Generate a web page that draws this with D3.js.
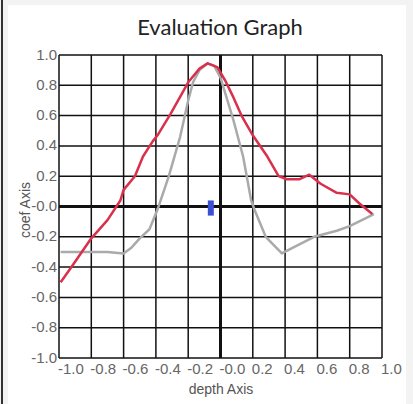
<!DOCTYPE html>
<html>
<head>
<meta charset="utf-8">
<script src="https://cdn.jsdelivr.net/npm/d3@7"></script>
<style>
  body { margin: 0; background: #f3f3f3; }
  svg { display: block; }
</style>
</head>
<body>
<svg id="chart" width="413" height="404"></svg>
<script>
// data
const ticks = [-1.0, -0.8, -0.6, -0.4, -0.2, 0.0, 0.2, 0.4, 0.6, 0.8, 1.0];
const tickLabels = ['-1.0', '-0.8', '-0.6', '-0.4', '-0.2', '-0.0', '0.2', '0.4', '0.6', '0.8', '1.0'];
const yTickLabels = ['-1.0', '-0.8', '-0.6', '-0.4', '-0.2', '-0.0', '0.2', '0.4', '0.6', '0.8', '1.0'];

const redX = [-0.99, -0.96, -0.91, -0.80, -0.70, -0.62, -0.60, -0.53, -0.48, -0.42, -0.39, -0.31, -0.20, -0.13, -0.08,
              -0.02, 0.03, 0.08, 0.13, 0.20, 0.29, 0.36, 0.41, 0.49, 0.55, 0.62, 0.72, 0.80, 0.86, 0.94];
const redY = [-0.50, -0.455, -0.38, -0.21, -0.09, 0.04, 0.11, 0.20, 0.33, 0.43, 0.47, 0.61, 0.82, 0.91, 0.945,
              0.92, 0.83, 0.72, 0.60, 0.47, 0.33, 0.20, 0.18, 0.18, 0.21, 0.15, 0.09, 0.08, 0.02, -0.05];

const greyX = [-0.99, -0.93, -0.80, -0.70, -0.60, -0.55, -0.50, -0.44, -0.39, -0.32, -0.25, -0.20, -0.17, -0.13, -0.08,
               -0.04, 0.0, 0.08, 0.14, 0.19, 0.21, 0.28, 0.38, 0.47, 0.58, 0.72, 0.80, 0.95];
const greyY = [-0.30, -0.30, -0.30, -0.30, -0.31, -0.27, -0.21, -0.15, -0.02, 0.20, 0.46, 0.70, 0.82, 0.90, 0.945,
               0.93, 0.85, 0.57, 0.33, 0.04, -0.02, -0.20, -0.31, -0.26, -0.20, -0.16, -0.13, -0.05];

const markerX = -0.06;
const markerY = [0.04, -0.06];

const svg = d3.select('#chart');

// white card + left frame line
svg.append('rect').attr('x', 8).attr('y', 5).attr('width', 398).attr('height', 399).attr('fill', '#fff');
svg.append('rect').attr('x', 1).attr('y', 0).attr('width', 2).attr('height', 404).attr('fill', '#333');

const xScale = d3.scaleLinear().domain([-1, 1]).range([59, 382]);
const yScale = d3.scaleLinear().domain([-1, 1]).range([358, 55]);

// grid
const g = svg.append('g');
g.selectAll('.vgrid').data(ticks).enter().append('line')
    .attr('x1', d => xScale(d)).attr('x2', d => xScale(d))
    .attr('y1', yScale(1)).attr('y2', yScale(-1))
    .attr('stroke', '#111')
    .attr('stroke-width', d => d === 0 ? 3 : 1.5);
g.selectAll('.hgrid').data(ticks).enter().append('line')
    .attr('y1', d => yScale(d)).attr('y2', d => yScale(d))
    .attr('x1', xScale(-1)).attr('x2', xScale(1))
    .attr('stroke', '#111')
    .attr('stroke-width', d => d === 0 ? 3 : 1.5);

// tick labels
g.selectAll('.xlab').data(ticks).enter().append('text')
    .attr('x', d => xScale(d) - 1)
    .attr('y', 374)
    .attr('font-family', 'Liberation Sans, Arial, sans-serif')
    .attr('font-size', 15)
    .attr('fill', '#666')
    .text((d, i) => tickLabels[i]);

g.selectAll('.ylab').data(ticks).enter().append('text')
    .attr('x', 57)
    .attr('y', d => yScale(d))
    .attr('dy', '0.3em')
    .attr('text-anchor', 'end')
    .attr('font-family', 'Liberation Sans, Arial, sans-serif')
    .attr('font-size', 15)
    .attr('fill', '#666')
    .text((d, i) => yTickLabels[i]);

// series
const line = d3.line().x(d => xScale(d[0])).y(d => yScale(d[1])).curve(d3.curveLinear);

svg.append('path')
    .datum(greyX.map((x, i) => [x, greyY[i]]))
    .attr('d', line)
    .attr('fill', 'none')
    .attr('stroke', '#aaa')
    .attr('stroke-width', 2.5)
    .attr('stroke-linejoin', 'round');

svg.append('path')
    .datum(redX.map((x, i) => [x, redY[i]]))
    .attr('d', line)
    .attr('fill', 'none')
    .attr('stroke', '#d9304c')
    .attr('stroke-width', 2.5)
    .attr('stroke-linejoin', 'round');

// small blue marker
svg.append('rect')
    .attr('x', xScale(markerX) - 3)
    .attr('y', yScale(markerY[0]))
    .attr('width', 6)
    .attr('height', yScale(markerY[1]) - yScale(markerY[0]))
    .attr('fill', '#3a4fd4');

// titles
svg.append('text')
    .attr('x', 220).attr('y', 35)
    .attr('text-anchor', 'middle')
    .attr('font-family', 'Lato, sans-serif')
    .attr('font-size', 22)
    .attr('fill', '#222')
    .text('Evaluation Graph');

svg.append('text')
    .attr('x', 221).attr('y', 394)
    .attr('text-anchor', 'middle')
    .attr('font-family', 'Liberation Sans, Arial, sans-serif')
    .attr('font-size', 14)
    .attr('fill', '#555')
    .text('depth Axis');

svg.append('text')
    .attr('transform', 'translate(30,210) rotate(-90)')
    .attr('text-anchor', 'middle')
    .attr('font-family', 'Liberation Sans, Arial, sans-serif')
    .attr('font-size', 14)
    .attr('fill', '#555')
    .text('coef Axis');
</script>
</body>
</html>
